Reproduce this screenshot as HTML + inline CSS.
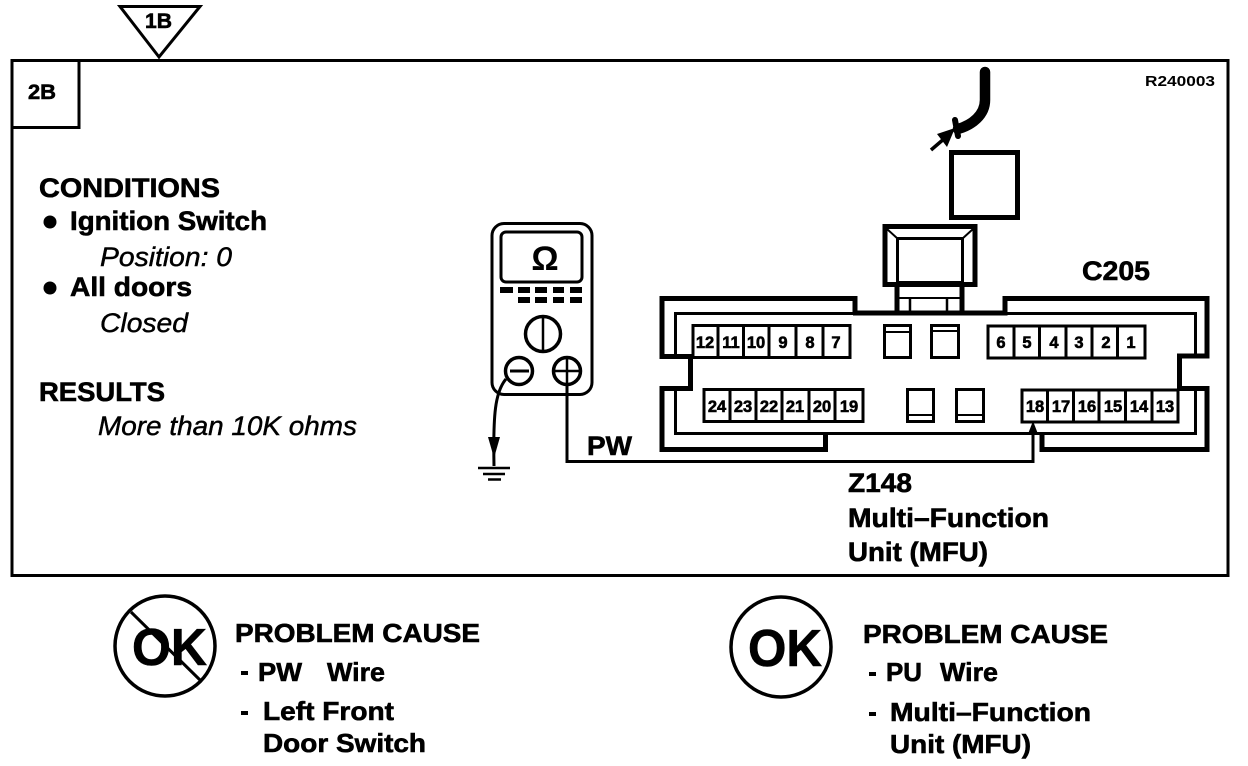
<!DOCTYPE html>
<html><head><meta charset="utf-8"><style>
html,body{margin:0;padding:0;background:#fff}
svg{display:block}
text{font-family:"Liberation Sans",sans-serif;fill:#000}
.b{font-weight:700;stroke:#000;stroke-width:.6}
.i{font-style:italic;stroke:#000;stroke-width:.45}
.n{font-size:16.500px;font-weight:700;text-anchor:middle;stroke:#000;stroke-width:.6}
.l{fill:none;stroke:#000}
</style></head><body>
<svg width="1248" height="766" viewBox="0 0 1248 766" xmlns="http://www.w3.org/2000/svg">
<rect width="1248" height="766" fill="#fff"/>
<!-- frame -->
<rect x="12" y="60.500" width="1216" height="515" class="l" stroke-width="3"/>
<rect x="12" y="60.500" width="67" height="67" class="l" stroke-width="3"/>
<polygon points="120,6.500 200,6.500 159,57" class="l" stroke-width="3"/>
<text x="145" y="28" class="b" font-size="21" textLength="27" lengthAdjust="spacingAndGlyphs">1B</text>
<text x="28" y="99" class="b" font-size="21" textLength="28" lengthAdjust="spacingAndGlyphs">2B</text>
<text x="1145" y="86" font-size="14.500" font-weight="700" textLength="70" lengthAdjust="spacingAndGlyphs">R240003</text>
<!-- conditions -->
<text x="39" y="197" class="b" font-size="27" textLength="181" lengthAdjust="spacingAndGlyphs">CONDITIONS</text>
<circle cx="50" cy="222" r="6.500"/>
<text x="70" y="230" class="b" font-size="27" textLength="197" lengthAdjust="spacingAndGlyphs">Ignition Switch</text>
<text x="100" y="266" class="i" font-size="27" textLength="132" lengthAdjust="spacingAndGlyphs">Position: 0</text>
<circle cx="50" cy="288" r="6.500"/>
<text x="70" y="296" class="b" font-size="27" textLength="122" lengthAdjust="spacingAndGlyphs">All doors</text>
<text x="100" y="332" class="i" font-size="27" textLength="88" lengthAdjust="spacingAndGlyphs">Closed</text>
<text x="39" y="401" class="b" font-size="27" textLength="126" lengthAdjust="spacingAndGlyphs">RESULTS</text>
<text x="98" y="435" class="i" font-size="27" textLength="259" lengthAdjust="spacingAndGlyphs">More than 10K ohms</text>
<!-- meter -->
<rect x="492" y="223.500" width="100" height="171" rx="12" class="l" stroke-width="3"/>
<rect x="501" y="232" width="81" height="50" rx="5" class="l" stroke-width="3"/>
<text x="545" y="270" font-size="34" font-weight="700" text-anchor="middle">Ω</text>
<g>
<rect x="500" y="287" width="13" height="6"/><rect x="518" y="287" width="12" height="6"/><rect x="535" y="287" width="12" height="6"/><rect x="553" y="287" width="11" height="6"/><rect x="570" y="287" width="12" height="6"/>
<rect x="518" y="297" width="12" height="6"/><rect x="535" y="297" width="12" height="6"/><rect x="553" y="297" width="11" height="6"/><rect x="570" y="297" width="12" height="6"/>
</g>
<circle cx="543" cy="334" r="17.500" class="l" stroke-width="3.500"/>
<line x1="543" y1="316" x2="543" y2="352" class="l" stroke-width="2.500"/>
<circle cx="519" cy="371" r="13.500" fill="#fff" stroke="#000" stroke-width="3.500"/>
<line x1="510" y1="371" x2="529" y2="371" class="l" stroke-width="3"/>
<circle cx="567" cy="371" r="13.500" fill="#fff" stroke="#000" stroke-width="3.500"/>
<line x1="554" y1="371" x2="581" y2="371" class="l" stroke-width="2.500"/>
<line x1="567" y1="358" x2="567" y2="385" class="l" stroke-width="2.500"/>
<path d="M506 379 C495 392 493 415 494 466" class="l" stroke-width="3"/>
<polygon points="488,437 500,437 494,458"/>
<line x1="478" y1="468" x2="510" y2="468" class="l" stroke-width="2.500"/>
<line x1="483" y1="474" x2="505" y2="474" class="l" stroke-width="2.500"/>
<line x1="488" y1="479.500" x2="501" y2="479.500" class="l" stroke-width="2.500"/>
<!-- PW wire -->
<path d="M567 385 V461.500 H1033 V428" class="l" stroke-width="3"/>
<polygon points="1033,421 1028,434 1038,434"/>
<text x="587" y="455" class="b" font-size="27" textLength="45" lengthAdjust="spacingAndGlyphs">PW</text>
<text x="1082" y="280" class="b" font-size="27" textLength="68" lengthAdjust="spacingAndGlyphs">C205</text>
<text x="848" y="492" class="b" font-size="27" textLength="64" lengthAdjust="spacingAndGlyphs">Z148</text>
<text x="848" y="527" class="b" font-size="27" textLength="201" lengthAdjust="spacingAndGlyphs">Multi–Function</text>
<text x="848" y="561" class="b" font-size="27" textLength="140" lengthAdjust="spacingAndGlyphs">Unit (MFU)</text>
<!-- housing outer -->
<path d="M855 313 V298.500 H662 V356.500 H690.500 V388.500 H662 V449.500 H825.500 V434" class="l" stroke-width="5"/>
<path d="M853 313 H1005 V298.500 H1207 V356 H1179.500 V388.500 H1207 V449.500 H1042 V434" class="l" stroke-width="5"/>
<path d="M692 356 H675.500 V313.500 H855" class="l" stroke-width="3"/>
<path d="M692 388 H675.500 V433.500 H1195.500 V388" class="l" stroke-width="3"/>
<path d="M1005 313.500 H1195.500 V356" class="l" stroke-width="3"/>
<!-- pin rows -->
<rect x="693" y="325.500" width="157" height="32" fill="#fff" stroke="#000" stroke-width="3"/>
<path d="M718 325V358M743.500 325V358M769 325V358M796 325V358M823 325V358" class="l" stroke-width="3"/>
<rect x="704" y="389.500" width="159" height="32" fill="#fff" stroke="#000" stroke-width="3"/>
<path d="M730 389V422M756 389V422M782 389V422M809 389V422M835 389V422" class="l" stroke-width="3"/>
<rect x="988" y="326" width="157" height="32" fill="#fff" stroke="#000" stroke-width="3"/>
<path d="M1014 326V358M1039.500 326V358M1066 326V358M1092 326V358M1117.500 326V358" class="l" stroke-width="3"/>
<rect x="1022" y="390" width="156" height="32" fill="#fff" stroke="#000" stroke-width="3"/>
<path d="M1047.500 390V422M1073.500 390V422M1099 390V422M1125.500 390V422M1152 390V422" class="l" stroke-width="3"/>
<g>
<text x="705" y="348" class="n">12</text><text x="731" y="348" class="n">11</text><text x="756" y="348" class="n">10</text><text x="783" y="348" class="n">9</text><text x="810" y="348" class="n">8</text><text x="836" y="348" class="n">7</text>
<text x="717" y="412" class="n">24</text><text x="743" y="412" class="n">23</text><text x="769" y="412" class="n">22</text><text x="795" y="412" class="n">21</text><text x="822" y="412" class="n">20</text><text x="849" y="412" class="n">19</text>
<text x="1001" y="348" class="n">6</text><text x="1027" y="348" class="n">5</text><text x="1054" y="348" class="n">4</text><text x="1079" y="348" class="n">3</text><text x="1106" y="348" class="n">2</text><text x="1131" y="348" class="n">1</text>
<text x="1035" y="412" class="n">18</text><text x="1061" y="412" class="n">17</text><text x="1087" y="412" class="n">16</text><text x="1113" y="412" class="n">15</text><text x="1139" y="412" class="n">14</text><text x="1165" y="412" class="n">13</text>
</g>
<!-- small keys -->
<rect x="884.500" y="325.500" width="26" height="32" class="l" stroke-width="3"/><line x1="885" y1="332" x2="910" y2="332" class="l" stroke-width="2"/>
<rect x="931.500" y="325.500" width="27" height="32" class="l" stroke-width="3"/><line x1="932" y1="331" x2="958" y2="331" class="l" stroke-width="2"/>
<rect x="907.500" y="389.500" width="26" height="32" class="l" stroke-width="3"/><line x1="908" y1="415" x2="933" y2="415" class="l" stroke-width="2"/>
<rect x="956.500" y="389.500" width="27" height="32" class="l" stroke-width="3"/><line x1="957" y1="415" x2="983" y2="415" class="l" stroke-width="2"/>
<!-- relay + socket -->
<rect x="951.500" y="152.500" width="66" height="65" class="l" stroke-width="5"/>
<rect x="885" y="226.500" width="90" height="58" class="l" stroke-width="5"/>
<rect x="897.500" y="238.500" width="65" height="44" class="l" stroke-width="3"/>
<path d="M887 229L898 239M973 229L962 239" class="l" stroke-width="2"/>
<path d="M897 286V313M962 286V313" class="l" stroke-width="5"/>
<path d="M899 298H960" class="l" stroke-width="2"/>
<path d="M910 298V313M947 298V313" class="l" stroke-width="2.500"/>
<!-- cable -->
<path d="M985 72 V100 C985 115 972 125 958 129" class="l" stroke-width="10.500" stroke-linecap="round"/>
<path d="M955 120 L958 136" class="l" stroke-width="6" stroke-linecap="round"/>
<line x1="931" y1="150" x2="945" y2="138" class="l" stroke-width="3.500"/>
<polygon points="955,128 937,134 947,147"/>
<!-- bottom left -->
<circle cx="165" cy="646" r="50" class="l" stroke-width="3.500"/>
<line x1="131" y1="612" x2="201" y2="681" class="l" stroke-width="3"/>
<text x="132" y="665" class="b" font-size="52" textLength="75" lengthAdjust="spacingAndGlyphs">OK</text>
<text x="235" y="642" class="b" font-size="26" textLength="245" lengthAdjust="spacingAndGlyphs">PROBLEM CAUSE</text>
<rect x="241" y="671" width="7" height="4"/>
<text x="258" y="681" class="b" font-size="26" textLength="44" lengthAdjust="spacingAndGlyphs">PW</text>
<text x="327" y="681" class="b" font-size="26" textLength="58" lengthAdjust="spacingAndGlyphs">Wire</text>
<rect x="241" y="711" width="7" height="4"/>
<text x="263" y="720" class="b" font-size="26" textLength="131" lengthAdjust="spacingAndGlyphs">Left Front</text>
<text x="263" y="752" class="b" font-size="26" textLength="163" lengthAdjust="spacingAndGlyphs">Door Switch</text>
<!-- bottom right -->
<circle cx="781" cy="647" r="50" class="l" stroke-width="3.500"/>
<text x="748" y="666" class="b" font-size="52" textLength="74" lengthAdjust="spacingAndGlyphs">OK</text>
<text x="863" y="643" class="b" font-size="26" textLength="245" lengthAdjust="spacingAndGlyphs">PROBLEM CAUSE</text>
<rect x="869" y="672" width="7" height="4"/>
<text x="886" y="681" class="b" font-size="26" textLength="36" lengthAdjust="spacingAndGlyphs">PU</text>
<text x="940" y="681" class="b" font-size="26" textLength="58" lengthAdjust="spacingAndGlyphs">Wire</text>
<rect x="869" y="712" width="7" height="4"/>
<text x="890" y="721" class="b" font-size="26" textLength="201" lengthAdjust="spacingAndGlyphs">Multi–Function</text>
<text x="890" y="753" class="b" font-size="26" textLength="141" lengthAdjust="spacingAndGlyphs">Unit (MFU)</text>
</svg>
</body></html>
